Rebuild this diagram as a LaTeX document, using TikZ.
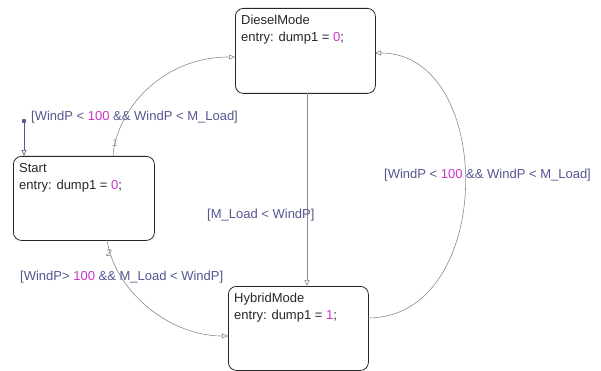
\documentclass[tikz,border=0pt]{standalone}
\usepackage{fontspec}
\setmainfont{Liberation Sans}
\usetikzlibrary{arrows.meta}
\definecolor{lblc}{HTML}{55558F}
\definecolor{numc}{HTML}{CC33CC}
\definecolor{linec}{HTML}{8A8A9A}
\tikzset{
  statebox/.style={draw=black!85, line width=0.8pt, rounded corners=8pt, minimum width=140pt, minimum height=85pt, inner sep=0pt},
  statetext/.style={anchor=north west, align=left, inner sep=0pt, font=\fontsize{13}{17}\selectfont, text=black!85},
  trans/.style={draw=linec, line width=0.6pt, -{Triangle[open, length=6pt, width=5pt]}},
  guard/.style={anchor=west, inner sep=0pt, font=\fontsize{13}{16}\selectfont, text=lblc},
  tnum/.style={inner sep=0pt, font=\fontsize{10}{12}\itshape, text=linec},
}
\newcommand{\num}[1]{\textcolor{numc}{#1}}
\begin{document}
\begin{tikzpicture}[x=1pt,y=-1pt]
\useasboundingbox (0,0) rectangle (601,371);
% states
\node[statebox, anchor=north west] (diesel) at (235,8) {};
\node[statebox, anchor=north west, minimum width=141pt, minimum height=84pt] (start) at (13,156) {};
\node[statebox, anchor=north west, minimum width=140pt, minimum height=84pt] (hybrid) at (228,286) {};
\node[statetext] (dieselT) at (241,15) {DieselMode\\entry: dump1 = \num{0};};
\node[statetext] (startT) at (19,163) {Start\\entry: dump1 = \num{0};};
\node[statetext] (hybridT) at (234,293) {HybridMode\\entry: dump1 = \num{1};};
% default transition
\fill[lblc] (24,121) circle (2.2pt) coordinate (init);
\coordinate (startIn) at (24,156);
\draw[trans, draw=lblc] (init) -- (startIn);
\node[guard] (g0) at (31,117) {[WindP < \num{100} \&\& WindP < M\_Load]};
% Start -> Diesel
\coordinate (s1) at (113,156);
\coordinate (d1) at (235,57);
\draw[trans] (s1) .. controls (116,112) and (160,57) .. (d1);
\node[tnum] (n1) at (115,143) {1};
% Diesel -> Hybrid
\coordinate (d2) at (307,93);
\coordinate (h2) at (307,286);
\draw[trans] (d2) -- (h2);
\node[guard] (g2) at (207,215) {[M\_Load < WindP]};
% Start -> Hybrid
\coordinate (s3) at (107,240);
\coordinate (h3) at (228,336);
\draw[trans] (s3) .. controls (115,292) and (170,336) .. (h3);
\node[tnum] (n2) at (109,253) {2};
\node[guard] (g3) at (20,277) {[WindP> \num{100} \&\& M\_Load < WindP]};
% Hybrid -> Diesel
\coordinate (h4) at (368,318);
\coordinate (d4) at (375,53);
\draw[trans] (h4) .. controls (496,318) and (496,53) .. (d4);
\node[guard] (g4) at (384,175) {[WindP < \num{100} \&\& WindP < M\_Load]};
\end{tikzpicture}
\end{document}
